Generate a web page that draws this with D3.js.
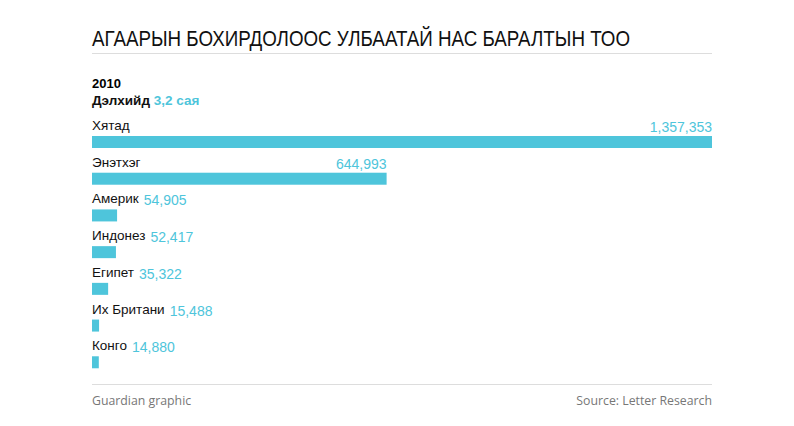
<!DOCTYPE html>
<html><head><meta charset="utf-8">
<script src="https://cdn.jsdelivr.net/npm/d3@7"></script>
<style>body{margin:0;background:#fff}</style>
</head><body>
<svg id="c" width="794" height="426"></svg>
<script>
const categories = ["Хятад","Энэтхэг","Америк","Индонез","Египет","Их Британи","Конго"];
const values = [1357353,644993,54905,52417,35322,15488,14880];
const title = "АГААРЫН БОХИРДОЛООС УЛБААТАЙ НАС БАРАЛТЫН ТОО";
const color = "#4ec5db";
const svg = d3.select("#c");
const F = "'Liberation Sans', Arial, sans-serif";
const x = d3.scaleLinear().domain([0, d3.max(values)]).range([92, 712]);
const y = d3.scaleBand().domain(categories).range([117, 374]).paddingInner(0);
svg.append("text").attr("x",92).attr("y",46).attr("font-family",F).attr("font-size",21.5).attr("fill","#111").attr("textLength",538).attr("lengthAdjust","spacingAndGlyphs").text(title);
svg.append("line").attr("x1",92).attr("x2",712).attr("y1",53.5).attr("y2",53.5).attr("stroke","#ddd");
svg.append("text").attr("x",92).attr("y",88).attr("font-family",F).attr("font-weight","bold").attr("font-size",13).text("2010");
const t=svg.append("text").attr("x",92).attr("y",105).attr("font-family",F).attr("font-weight","bold").attr("font-size",13.5);
t.append("tspan").attr("fill","#111").text("Дэлхийд ");
t.append("tspan").attr("fill",color).text("3,2 сая");
const g = svg.selectAll("g.r").data(categories).join("g");
g.each(function(c,i){
  const s=d3.select(this), y0=y(c), v=values[i];
  const name=s.append("text").attr("x",92).attr("y",y0+13).attr("font-family",F).attr("font-size",13.5).attr("fill","#111").text(c);
  s.append("rect").attr("x",x(0)).attr("y",y0+19).attr("width",x(v)-x(0)).attr("height",12).attr("fill",color);
  const lab=s.append("text").attr("y",y0+15).attr("font-family",F).attr("font-size",14).attr("fill",color).text(d3.format(",")(v));
  const nw=name.node().getComputedTextLength(), lw=lab.node().getComputedTextLength();
  if (x(v) > 92+nw+lw+20) lab.attr("x",x(v)).attr("text-anchor","end");
  else lab.attr("x",92+nw+5);
});
svg.append("line").attr("x1",92).attr("x2",712).attr("y1",384.5).attr("y2",384.5).attr("stroke","#ddd");
svg.append("text").attr("x",92).attr("y",405).attr("font-family","'Open Sans',sans-serif").attr("font-size",12.3).attr("fill","#777").text("Guardian graphic");
svg.append("text").attr("x",712).attr("y",405).attr("text-anchor","end").attr("font-family","'Open Sans',sans-serif").attr("font-size",12.3).attr("fill","#777").text("Source: Letter Research");
</script></body></html>
